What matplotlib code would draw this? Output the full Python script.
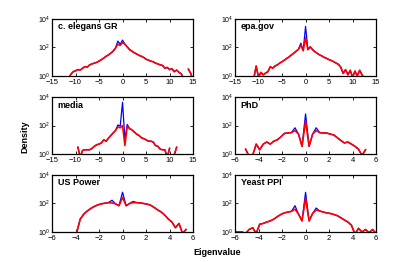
import numpy as np
import matplotlib
matplotlib.use("Agg")
import matplotlib.pyplot as plt

plt.rcParams["font.family"] = ["Liberation Sans", "DejaVu Sans"]
plt.rcParams["mathtext.default"] = "regular"

nan = np.nan

# wide panels: eigenvalue grid -15..15 step 0.5
x_wide = np.arange(-15, 15.01, 0.5)
# narrow panels: eigenvalue grid -6..6 step 0.3
x_narrow = np.round(np.arange(-6, 6.01, 0.3), 2)

celegans = [nan, nan, nan, nan, nan, nan, nan, 0.6, 1.3, 2.0, 2.3, 2.8, 2.6, 3.5,
            4.5, 4.2, 6, 7, 8, 9, 11, 14, 18, 24, 30, 40, 55, 90, 170, 140,
            220, 170, 110, 70, 55, 42, 35, 28, 24, 20, 15, 13, 11, 10, 8, 7,
            6, 5.5, 3.5, 4, 2.8, 3.2, 2.0, 2.6, 1.8, 1.4, 0.6, nan, 3, 1.5, 0.5]
celegans_blue = {-1.0: 280, -0.5: 170, 0.0: 330}

epa = [nan, nan, nan, nan, nan, nan, nan, nan, 0.7, 5, 0.8, 1.8, 1.2, 1.6,
       2.0, 4.5, 3.5, 5, 6, 8, 10, 13, 17, 22, 30, 40, 55, 75, 150, 60,
       500, 70, 110, 70, 50, 38, 30, 25, 20, 17, 14, 12, 10, 8, 6.5, 4,
       1.5, 2.8, 1.2, 2.5, 0.8, 2.2, 1.0, 2.5, 1.2, 0.7, nan, nan, nan, nan, nan]
epa_blue = {-1.0: 200, 0.0: 3000}

media = [nan, nan, nan, nan, nan, nan, nan, nan, nan, nan, nan, 3, 0.6, 1.8,
         2, 2, 2, 2.5, 3.5, 4.5, 5, 6, 10, 8, 13, 20, 30, 45, 80, 70,
         100, 4, 90, 60, 50, 35, 25, 20, 14, 12, 10, 8, 8, 7, 4, 3.5,
         2.2, 2.0, 2, 0.6, 2.5, nan, 0.9, 3, nan, nan, nan, nan, nan, nan, nan]
media_blue = {-1.0: 110, -0.5: 90, 0.0: 4300, 0.5: 10, 1.0: 120}

phd = [nan, nan, nan, 2.2, 0.7, 0.8, 5, 2, 5, 7, 5, 8, 10, 16, 28, 30, 32,
       45, 25, 3.5, 200, 3.5, 25, 45, 32, 30, 30, 25, 22, 14, 9, 6, 7, 5,
       3.5, 2.2, 0.8, 2.0, nan, nan, nan]
phd_blue = {-0.9: 70, 0.0: 650, 0.9: 70}

uspower = [nan, nan, nan, nan, nan, nan, nan, 0.9, 8, 18, 30, 45, 62, 80, 95,
           105, 115, 110, 95, 70, 270, 70, 100, 115, 115, 110, 100, 90, 75,
           52, 35, 25, 15, 8, 5, 2, 4, 0.8, 1.5, nan, nan]
uspower_blue = {-0.9: 170, 0.0: 620, 0.9: 140}

yeast = [1.0, 1.0, 1.0, 0.8, 1.5, 2, 0.8, 3.5, 4, 5, 6, 8, 12, 17, 22, 25,
         28, 40, 18, 6, 230, 6, 20, 35, 30, 25, 22, 20, 17, 14, 10, 7, 5, 3,
         0.7, 1.8, 1.0, 1.5, 0.9, 1.5, 0.8]
yeast_blue = {-0.9: 70, 0.0: 610, 0.9: 48}

panels = [
    ("c. elegans GR", x_wide, celegans, celegans_blue, 15),
    ("epa.gov", x_wide, epa, epa_blue, 15),
    ("media", x_wide, media, media_blue, 15),
    ("PhD", x_narrow, phd, phd_blue, 6),
    ("US Power", x_narrow, uspower, uspower_blue, 6),
    ("Yeast PPI", x_narrow, yeast, yeast_blue, 6),
]

fig = plt.figure(figsize=(4.15, 2.62), dpi=100)
lefts = [0.1253, 0.5663]
bottoms = [0.710, 0.412, 0.1145]

for i, (name, xs, red, blue_pk, lim) in enumerate(panels):
    ax = fig.add_axes([lefts[i % 2], bottoms[i // 2], 0.340, 0.2176])
    red = np.array(red, dtype=float)
    blue = red.copy()
    for k, v in blue_pk.items():
        blue[np.argmin(np.abs(xs - k))] = v
    ax.plot(xs, blue, color="#0000ff", lw=0.9)
    ax.plot(xs, red, color="#ff0000", lw=1.2)
    ax.set_yscale("log")
    ax.set_ylim(1, 1e4)
    ax.set_xlim(-lim, lim)
    ax.set_yticks([1, 100, 10000])
    ax.set_yticklabels(["$10^0$", "$10^2$", "$10^4$"])
    ax.minorticks_off()
    if lim == 15:
        ax.set_xticks([-15, -10, -5, 0, 5, 10, 15])
    else:
        ax.set_xticks([-6, -4, -2, 0, 2, 4, 6])
    ax.tick_params(direction="in", top=True, right=True, labelsize=5.5,
                   length=2, width=0.6, pad=2.2)
    ax.tick_params(axis="y", labelsize=5, pad=1)
    for s in ax.spines.values():
        s.set_linewidth(0.9)
    ax.text(0.04, 0.86, name, transform=ax.transAxes, fontsize=6.5,
            fontweight="bold", va="center")

fig.text(0.06, 0.48, "Density", rotation=90, fontsize=6.5, fontweight="bold",
         ha="center", va="center")
fig.text(0.523, 0.038, "Eigenvalue", fontsize=6.5, fontweight="bold",
         ha="center", va="center")

fig.savefig("out.png", dpi=100)
